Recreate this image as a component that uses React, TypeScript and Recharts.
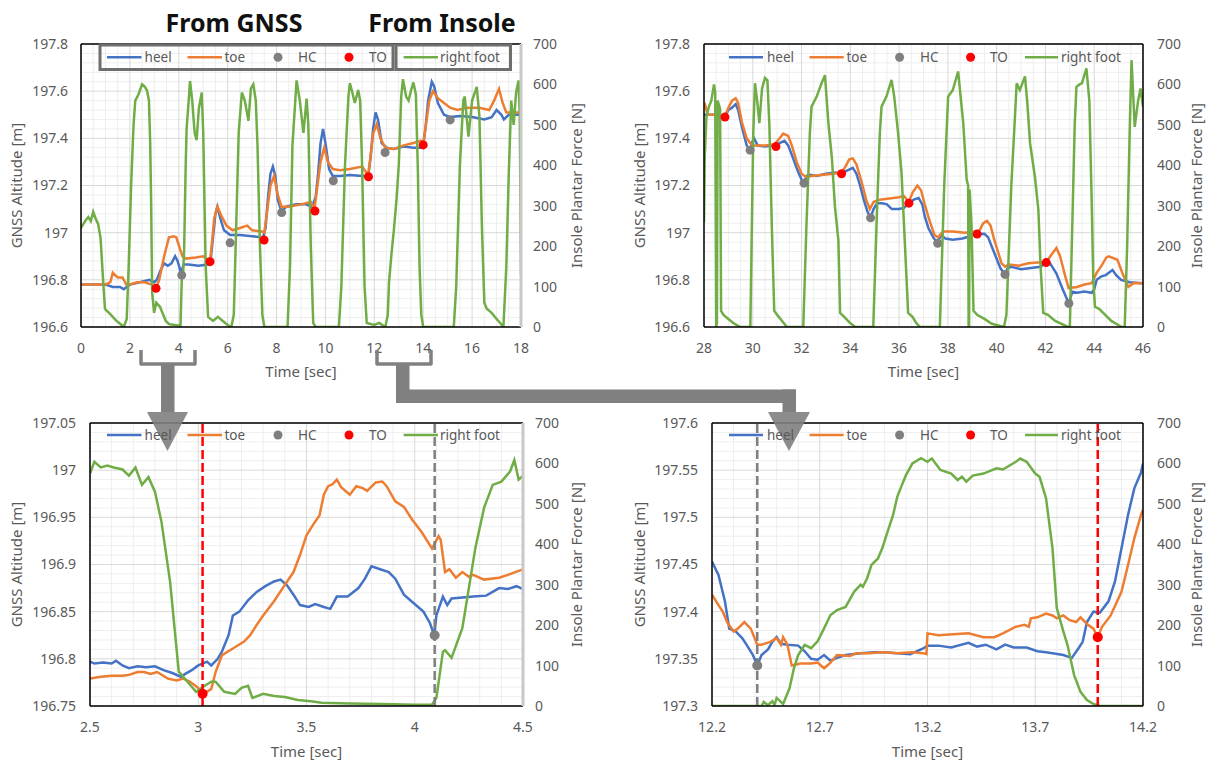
import { CartesianGrid, ComposedChart, Line, ReferenceLine, Scatter, XAxis, YAxis } from 'recharts'

type Pt = [number, number]

// axis ticks
const tlTimeTicks = [0, 2, 4, 6, 8, 10, 12, 14, 16, 18]
const trTimeTicks = [28, 30, 32, 34, 36, 38, 40, 42, 44, 46]
const blTimeTicks = [2.5, 3, 3.5, 4, 4.5]
const brTimeTicks = [12.2, 12.7, 13.2, 13.7, 14.2]
const topAltTicks = [196.6, 196.8, 197, 197.2, 197.4, 197.6, 197.8]
const blAltTicks = [196.75, 196.8, 196.85, 196.9, 196.95, 197, 197.05]
const brAltTicks = [197.3, 197.35, 197.4, 197.45, 197.5, 197.55, 197.6]
const forceTicks = [0, 100, 200, 300, 400, 500, 600, 700]

// ---- top left, 0-18 s : [time, value] ----
const tlHeel: Pt[] = [
  [0, 196.78], [0.5, 196.78], [1.0, 196.78], [1.3, 196.77], [1.6, 196.77], [1.75, 196.76], [2.0, 196.78],
  [2.4, 196.79], [2.8, 196.8], [3.0, 196.79], [3.1, 196.8], [3.25, 196.84], [3.4, 196.87], [3.55, 196.86],
  [3.7, 196.87], [3.85, 196.9], [3.95, 196.88], [4.09, 196.83], [4.2, 196.865], [4.4, 196.865], [4.8, 196.86],
  [5.2, 196.865], [5.3, 196.88], [5.4, 196.98], [5.5, 197.08], [5.58, 197.11], [5.7, 197.06], [5.85, 197.01],
  [6.1, 196.99], [6.5, 196.99], [7.0, 196.985], [7.45, 196.98], [7.55, 197.02], [7.65, 197.15], [7.75, 197.25],
  [7.85, 197.28], [7.95, 197.24], [8.05, 197.14], [8.2, 197.09], [8.4, 197.11], [8.8, 197.12], [9.2, 197.12],
  [9.45, 197.11], [9.6, 197.15], [9.7, 197.25], [9.8, 197.38], [9.9, 197.44], [10.0, 197.38], [10.15, 197.27],
  [10.3, 197.24], [10.6, 197.24], [11.0, 197.245], [11.5, 197.24], [11.75, 197.24], [11.85, 197.32],
  [11.95, 197.44], [12.05, 197.51], [12.15, 197.48], [12.3, 197.38], [12.5, 197.36], [12.8, 197.355],
  [13.2, 197.365], [13.6, 197.36], [13.9, 197.36], [14.0, 197.37], [14.1, 197.45], [14.2, 197.56],
  [14.35, 197.64], [14.45, 197.62], [14.6, 197.55], [14.85, 197.5], [15.1, 197.49], [15.5, 197.495],
  [16.0, 197.49], [16.5, 197.48], [16.8, 197.49], [17.0, 197.52], [17.2, 197.5], [17.3, 197.48], [17.5, 197.5],
  [18, 197.5],
]
const tlToe: Pt[] = [
  [0, 196.78], [0.5, 196.78], [1.0, 196.78], [1.2, 196.79], [1.3, 196.83], [1.4, 196.82], [1.5, 196.81],
  [1.7, 196.81], [1.85, 196.78], [2.0, 196.78], [2.3, 196.79], [2.6, 196.79], [2.9, 196.78], [3.07, 196.765],
  [3.2, 196.8], [3.4, 196.9], [3.6, 196.98], [3.8, 196.985], [3.9, 196.98], [4.05, 196.93], [4.15, 196.9],
  [4.3, 196.89], [4.7, 196.895], [5.0, 196.9], [5.28, 196.88], [5.35, 196.95], [5.45, 197.06], [5.58, 197.11],
  [5.75, 197.07], [5.95, 197.03], [6.2, 197.01], [6.5, 197.02], [6.8, 197.03], [7.0, 197.01], [7.4, 197.005],
  [7.5, 197.0], [7.6, 197.08], [7.75, 197.2], [7.9, 197.24], [8.05, 197.16], [8.2, 197.11], [8.5, 197.11],
  [9.0, 197.12], [9.4, 197.13], [9.55, 197.1], [9.65, 197.18], [9.8, 197.3], [9.95, 197.36], [10.1, 197.3],
  [10.3, 197.27], [10.6, 197.265], [11.0, 197.27], [11.5, 197.28], [11.75, 197.245], [11.85, 197.33],
  [11.95, 197.42], [12.1, 197.46], [12.25, 197.4], [12.45, 197.36], [12.8, 197.355], [13.2, 197.37],
  [13.6, 197.38], [13.9, 197.39], [14.0, 197.375], [14.1, 197.45], [14.25, 197.56], [14.4, 197.6],
  [14.6, 197.57], [14.85, 197.55], [15.1, 197.53], [15.4, 197.52], [15.8, 197.53], [16.3, 197.53],
  [16.7, 197.52], [16.9, 197.56], [17.1, 197.61], [17.25, 197.55], [17.4, 197.51], [18, 197.51],
]
const tlForce: Pt[] = [
  [0, 245], [0.1, 255], [0.2, 265], [0.3, 272], [0.4, 262], [0.5, 285], [0.6, 268], [0.7, 255], [0.8, 220],
  [0.9, 120], [0.98, 45], [1.05, 40], [1.15, 35], [1.3, 25], [1.45, 15], [1.6, 8], [1.75, 0], [1.87, 20],
  [1.95, 150], [2.05, 350], [2.15, 500], [2.22, 560], [2.35, 575], [2.5, 600], [2.6, 595], [2.7, 585],
  [2.78, 560], [2.83, 456], [2.87, 307], [2.91, 85], [2.99, 35], [3.08, 60], [3.23, 50], [3.47, 15], [3.6, 7],
  [4.07, 3], [4.13, 134], [4.17, 119], [4.22, 193], [4.28, 391], [4.32, 490], [4.4, 555], [4.46, 608],
  [4.55, 560], [4.65, 480], [4.73, 462], [4.82, 540], [4.94, 580], [5.0, 480], [5.1, 150], [5.2, 25],
  [5.4, 15], [5.6, 25], [5.8, 15], [6.0, 5], [6.15, 0], [6.25, 30], [6.35, 250], [6.45, 480], [6.58, 580],
  [6.7, 560], [6.85, 510], [6.95, 590], [7.05, 600], [7.15, 560], [7.22, 450], [7.32, 200], [7.42, 30],
  [7.5, 0], [8.45, 0], [8.55, 150], [8.65, 450], [8.82, 610], [8.95, 560], [9.1, 480], [9.23, 565], [9.3, 500],
  [9.4, 200], [9.5, 10], [9.6, 0], [10.55, 0], [10.65, 100], [10.8, 400], [10.94, 570], [11.0, 603],
  [11.1, 580], [11.2, 554], [11.34, 586], [11.42, 560], [11.5, 400], [11.6, 100], [11.69, 10], [12.0, 5],
  [12.2, 10], [12.45, 0], [12.55, 30], [12.6, 110], [12.7, 180], [12.8, 240], [12.9, 310], [13.0, 400],
  [13.1, 570], [13.17, 613], [13.3, 570], [13.4, 560], [13.5, 585], [13.6, 605], [13.7, 575], [13.78, 390],
  [13.85, 150], [13.92, 30], [14.0, 0], [15.25, 0], [15.35, 100], [15.5, 400], [15.64, 561], [15.7, 570],
  [15.85, 471], [16.0, 560], [16.19, 594], [16.3, 520], [16.4, 250], [16.5, 60], [16.6, 45], [16.8, 35],
  [17.0, 20], [17.15, 10], [17.28, 0], [17.4, 150], [17.5, 380], [17.6, 560], [17.7, 500], [17.8, 580],
  [17.9, 610], [17.95, 520], [18, 130],
]
const tlHC: Pt[] = [[4.12, 196.82], [6.1, 196.957], [8.21, 197.085], [10.32, 197.22], [12.44, 197.34], [15.1, 197.478]]
const tlTO: Pt[] = [[3.07, 196.764], [5.28, 196.877], [7.49, 196.969], [9.57, 197.092], [11.76, 197.237], [14.0, 197.372]]

// ---- top right, 28-46 s ----
const trHeel: Pt[] = [
  [28.0, 197.5], [28.3, 197.5], [28.6, 197.5], [28.86, 197.49], [29.0, 197.52], [29.15, 197.53],
  [29.3, 197.545], [29.4, 197.52], [29.55, 197.45], [29.75, 197.37], [29.89, 197.35], [30.0, 197.39],
  [30.05, 197.4], [30.2, 197.37], [30.5, 197.365], [30.8, 197.37], [30.95, 197.365], [31.1, 197.38],
  [31.3, 197.39], [31.45, 197.37], [31.6, 197.33], [31.85, 197.26], [32.0, 197.225], [32.1, 197.21],
  [32.2, 197.24], [32.35, 197.245], [32.6, 197.24], [33.0, 197.25], [33.4, 197.255], [33.64, 197.25],
  [33.8, 197.26], [34.1, 197.275], [34.25, 197.25], [34.4, 197.2], [34.55, 197.14], [34.7, 197.09],
  [34.83, 197.063], [34.95, 197.1], [35.1, 197.125], [35.3, 197.125], [35.5, 197.12], [35.7, 197.1],
  [36.0, 197.1], [36.2, 197.105], [36.4, 197.125], [36.6, 197.14], [36.8, 197.147], [36.95, 197.12],
  [37.05, 197.07], [37.2, 197.02], [37.4, 196.98], [37.58, 196.955], [37.7, 196.99], [37.9, 196.975],
  [38.2, 196.97], [38.6, 196.975], [38.9, 196.985], [39.2, 196.994], [39.5, 196.995], [39.65, 196.98],
  [39.88, 196.92], [40.15, 196.85], [40.34, 196.823], [40.45, 196.85], [40.6, 196.855], [41.0, 196.845],
  [41.4, 196.85], [41.8, 196.855], [42.02, 196.873], [42.12, 196.88], [42.25, 196.86], [42.45, 196.827],
  [42.72, 196.757], [42.96, 196.7], [43.1, 196.75], [43.3, 196.745], [43.6, 196.75], [43.9, 196.745],
  [44.0, 196.76], [44.1, 196.8], [44.3, 196.815], [44.47, 196.82], [44.6, 196.83], [44.75, 196.842],
  [44.9, 196.82], [45.1, 196.8], [45.45, 196.79], [46, 196.785],
]
const trToe: Pt[] = [
  [28.0, 197.53], [28.05, 197.54], [28.15, 197.5], [28.6, 197.5], [28.86, 197.495], [29.0, 197.53],
  [29.15, 197.56], [29.3, 197.57], [29.4, 197.55], [29.55, 197.47], [29.75, 197.4], [29.9, 197.38],
  [30.0, 197.37], [30.5, 197.37], [30.9, 197.375], [31.1, 197.4], [31.25, 197.42], [31.45, 197.41],
  [31.6, 197.37], [31.8, 197.3], [32.0, 197.25], [32.2, 197.235], [32.4, 197.24], [32.8, 197.245],
  [33.3, 197.25], [33.64, 197.255], [33.8, 197.28], [33.95, 197.31], [34.1, 197.315], [34.25, 197.29],
  [34.45, 197.22], [34.65, 197.14], [34.8, 197.1], [34.95, 197.13], [35.2, 197.14], [35.6, 197.145],
  [36.0, 197.15], [36.2, 197.155], [36.4, 197.13], [36.55, 197.17], [36.75, 197.2], [36.9, 197.18],
  [37.05, 197.12], [37.25, 197.05], [37.45, 196.99], [37.6, 196.98], [37.8, 197.005], [38.2, 197.005],
  [38.7, 197.0], [39.1, 197.005], [39.25, 197.0], [39.45, 197.04], [39.6, 197.05], [39.75, 197.03],
  [39.9, 196.97], [40.2, 196.87], [40.35, 196.856], [40.5, 196.865], [40.9, 196.86], [41.3, 196.87],
  [41.8, 196.875], [42.02, 196.873], [42.2, 196.9], [42.45, 196.935], [42.6, 196.9], [42.8, 196.82],
  [42.95, 196.765], [43.3, 196.77], [43.6, 196.78], [43.9, 196.786], [44.1, 196.83], [44.3, 196.86],
  [44.5, 196.895], [44.6, 196.9], [44.95, 196.885], [45.15, 196.83], [45.4, 196.77], [45.6, 196.785],
  [46, 196.785],
]
const trForce: Pt[] = [
  [28.0, 260], [28.03, 420], [28.1, 520], [28.2, 545], [28.3, 560], [28.41, 600], [28.46, 580], [28.5, 0],
  [28.53, 10], [28.56, 560], [28.66, 540], [28.7, 40], [28.8, 30], [29.0, 20], [29.2, 10], [29.4, 3],
  [29.5, 0], [29.9, 0], [29.95, 200], [30.02, 480], [30.09, 603], [30.18, 560], [30.27, 504], [30.38, 590],
  [30.5, 616], [30.6, 610], [30.68, 500], [30.78, 250], [30.88, 40], [31.0, 30], [31.2, 15], [31.4, 0],
  [32.07, 0], [32.2, 250], [32.34, 480], [32.41, 545], [32.62, 570], [32.82, 603], [32.96, 623], [33.1, 504],
  [33.24, 421], [33.37, 297], [33.51, 215], [33.58, 35], [33.75, 25], [33.95, 12], [34.2, 0], [34.94, 0],
  [35.1, 300], [35.21, 480], [35.28, 545], [35.48, 570], [35.69, 611], [35.8, 570], [35.96, 479],
  [36.1, 380], [36.23, 215], [36.37, 35], [36.55, 25], [36.7, 10], [36.85, 0], [37.67, 0], [37.85, 350],
  [38.01, 570], [38.2, 586], [38.42, 632], [38.63, 504], [38.77, 364], [38.83, 350], [38.85, 0], [38.87, 0],
  [38.89, 340], [38.97, 250], [39.05, 40], [39.2, 30], [39.5, 20], [39.8, 8], [40.3, 0], [40.4, 30],
  [40.6, 350], [40.75, 520], [40.82, 603], [40.95, 586], [41.16, 620], [41.25, 560], [41.37, 454],
  [41.57, 371], [41.71, 289], [41.8, 150], [41.91, 35], [42.1, 30], [42.4, 15], [42.93, 0], [43.0, 0],
  [43.12, 300], [43.2, 500], [43.27, 594], [43.4, 600], [43.5, 603], [43.68, 640], [43.8, 560], [43.9, 300],
  [43.96, 120], [44.03, 50], [44.2, 45], [44.45, 30], [44.7, 15], [45.12, 0], [45.25, 0], [45.35, 200],
  [45.46, 500], [45.53, 660], [45.66, 495], [45.8, 560], [45.9, 590], [46, 545],
]
const trHC: Pt[] = [[29.89, 197.35], [32.1, 197.21], [34.83, 197.063], [37.58, 196.955], [40.34, 196.823], [42.96, 196.7]]
const trTO: Pt[] = [[28.86, 197.49], [30.95, 197.365], [33.64, 197.25], [36.4, 197.125], [39.2, 196.994], [42.03, 196.873]]

// ---- bottom left, zoom 2.5-4.5 s ----
const blHeel: Pt[] = [
  [2.5, 196.797], [2.52, 196.795], [2.56, 196.796], [2.6, 196.795], [2.62, 196.798], [2.65, 196.793],
  [2.68, 196.79], [2.72, 196.792], [2.76, 196.791], [2.8, 196.792], [2.84, 196.788], [2.88, 196.785],
  [2.92, 196.781], [2.94, 196.784], [2.97, 196.788], [3.0, 196.793], [3.02, 196.795], [3.04, 196.797],
  [3.06, 196.793], [3.09, 196.8], [3.11, 196.808], [3.14, 196.825], [3.16, 196.846], [3.19, 196.85],
  [3.23, 196.862], [3.27, 196.871], [3.31, 196.877], [3.35, 196.882], [3.38, 196.884], [3.41, 196.878],
  [3.44, 196.868], [3.47, 196.857], [3.51, 196.855], [3.54, 196.858], [3.58, 196.855], [3.61, 196.853],
  [3.64, 196.866], [3.69, 196.866], [3.74, 196.875], [3.77, 196.885], [3.8, 196.898], [3.84, 196.895],
  [3.88, 196.892], [3.91, 196.885], [3.95, 196.868], [3.99, 196.86], [4.04, 196.85], [4.07, 196.838],
  [4.09, 196.825], [4.1, 196.846], [4.13, 196.866], [4.15, 196.857], [4.17, 196.864], [4.22, 196.865],
  [4.27, 196.866], [4.33, 196.867], [4.39, 196.875], [4.43, 196.874], [4.47, 196.877], [4.5, 196.874],
]
const blToe: Pt[] = [
  [2.5, 196.779], [2.55, 196.781], [2.6, 196.782], [2.65, 196.782], [2.68, 196.783], [2.72, 196.786],
  [2.75, 196.786], [2.78, 196.784], [2.81, 196.786], [2.86, 196.779], [2.9, 196.777], [2.93, 196.779],
  [2.96, 196.776], [2.99, 196.771], [3.02, 196.765], [3.04, 196.765], [3.06, 196.768], [3.08, 196.786],
  [3.11, 196.804], [3.16, 196.811], [3.21, 196.818], [3.24, 196.825], [3.27, 196.836], [3.3, 196.846],
  [3.35, 196.861], [3.39, 196.875], [3.44, 196.892], [3.47, 196.91], [3.5, 196.931], [3.53, 196.942],
  [3.56, 196.952], [3.58, 196.974], [3.6, 196.983], [3.62, 196.985], [3.64, 196.99], [3.66, 196.982],
  [3.7, 196.974], [3.73, 196.983], [3.76, 196.981], [3.78, 196.978], [3.82, 196.987], [3.85, 196.988],
  [3.87, 196.983], [3.91, 196.967], [3.95, 196.961], [3.99, 196.947], [4.03, 196.935], [4.08, 196.917],
  [4.11, 196.93], [4.12, 196.926], [4.14, 196.892], [4.16, 196.895], [4.19, 196.886], [4.22, 196.892],
  [4.25, 196.887], [4.27, 196.889], [4.32, 196.884], [4.39, 196.886], [4.43, 196.889], [4.49, 196.894],
  [4.5, 196.895],
]
const blForce: Pt[] = [
  [2.5, 575], [2.52, 604], [2.55, 590], [2.58, 595], [2.61, 590], [2.65, 585], [2.68, 570], [2.71, 590],
  [2.74, 547], [2.77, 566], [2.8, 530], [2.83, 456], [2.87, 307], [2.91, 85], [2.95, 60], [2.99, 35],
  [3.03, 50], [3.06, 60], [3.08, 60], [3.12, 35], [3.17, 30], [3.2, 45], [3.23, 50], [3.25, 20], [3.3, 30],
  [3.35, 25], [3.4, 22], [3.46, 15], [3.52, 12], [3.57, 8], [3.7, 6], [3.85, 5], [4.0, 3], [4.08, 3],
  [4.1, 20], [4.13, 134], [4.14, 138], [4.17, 119], [4.22, 193], [4.25, 292], [4.28, 391], [4.32, 490],
  [4.36, 547], [4.4, 555], [4.44, 580], [4.46, 608], [4.48, 560], [4.5, 570],
]
const blHC: Pt[] = [[4.092, 196.825]]
const blTO: Pt[] = [[3.02, 196.763]]

// ---- bottom right, zoom 12.2-14.2 s ----
const brHeel: Pt[] = [
  [12.2, 197.453], [12.23, 197.439], [12.26, 197.411], [12.28, 197.382], [12.31, 197.379], [12.34, 197.372],
  [12.36, 197.365], [12.39, 197.354], [12.41, 197.343], [12.43, 197.354], [12.46, 197.36], [12.48, 197.368],
  [12.5, 197.373], [12.52, 197.366], [12.55, 197.365], [12.6, 197.364], [12.63, 197.358], [12.66, 197.35],
  [12.69, 197.349], [12.72, 197.354], [12.75, 197.348], [12.78, 197.351], [12.82, 197.354], [12.89, 197.356],
  [12.95, 197.357], [13.0, 197.357], [13.06, 197.356], [13.12, 197.355], [13.18, 197.361], [13.2, 197.364],
  [13.25, 197.364], [13.31, 197.362], [13.39, 197.367], [13.43, 197.363], [13.47, 197.365], [13.52, 197.36],
  [13.56, 197.365], [13.6, 197.362], [13.66, 197.362], [13.71, 197.358], [13.75, 197.357], [13.78, 197.356],
  [13.83, 197.354], [13.87, 197.351], [13.9, 197.361], [13.92, 197.368], [13.94, 197.389], [13.97, 197.4],
  [14.0, 197.399], [14.04, 197.411], [14.07, 197.432], [14.1, 197.467], [14.13, 197.502], [14.16, 197.531],
  [14.19, 197.547], [14.2, 197.557],
]
const brToe: Pt[] = [
  [12.2, 197.418], [12.23, 197.407], [12.25, 197.4], [12.27, 197.389], [12.3, 197.379], [12.32, 197.382],
  [12.35, 197.389], [12.38, 197.382], [12.41, 197.365], [12.43, 197.365], [12.47, 197.368], [12.5, 197.372],
  [12.52, 197.365], [12.53, 197.373], [12.55, 197.365], [12.57, 197.343], [12.61, 197.345], [12.66, 197.345],
  [12.69, 197.346], [12.72, 197.34], [12.75, 197.346], [12.78, 197.354], [12.84, 197.353], [12.87, 197.356],
  [12.93, 197.356], [12.99, 197.357], [13.06, 197.356], [13.13, 197.357], [13.18, 197.356], [13.195, 197.355],
  [13.2, 197.377], [13.25, 197.375], [13.32, 197.376], [13.39, 197.377], [13.46, 197.373], [13.51, 197.373],
  [13.55, 197.377], [13.61, 197.384], [13.65, 197.386], [13.67, 197.384], [13.68, 197.393], [13.71, 197.394],
  [13.75, 197.398], [13.78, 197.396], [13.8, 197.393], [13.83, 197.396], [13.86, 197.391], [13.89, 197.389],
  [13.91, 197.394], [13.94, 197.387], [13.97, 197.382], [13.99, 197.373], [14.01, 197.384], [14.05, 197.396],
  [14.1, 197.421], [14.13, 197.449], [14.16, 197.478], [14.19, 197.502], [14.2, 197.508],
]
const brForce: Pt[] = [
  [12.2, 0], [12.43, 0], [12.44, 10], [12.46, 2], [12.48, 12], [12.49, 3], [12.5, 20], [12.53, 5], [12.56, 44],
  [12.58, 93], [12.6, 126], [12.63, 151], [12.66, 143], [12.69, 160], [12.72, 192], [12.75, 225], [12.78, 237],
  [12.82, 245], [12.86, 283], [12.89, 300], [12.9, 295], [12.92, 316], [12.94, 349], [12.97, 365], [12.99, 390],
  [13.01, 423], [13.04, 472], [13.06, 518], [13.08, 545], [13.1, 571], [13.13, 600], [13.17, 613], [13.2, 604],
  [13.22, 612], [13.26, 584], [13.31, 575], [13.34, 559], [13.36, 567], [13.38, 555], [13.41, 570], [13.46, 575],
  [13.52, 588], [13.55, 585], [13.61, 604], [13.63, 612], [13.66, 604], [13.7, 575], [13.72, 567], [13.75, 514],
  [13.78, 390], [13.8, 242], [13.83, 185], [13.85, 150], [13.88, 77], [13.91, 35], [13.94, 15], [13.97, 5],
  [14.0, 0], [14.2, 0],
]
const brHC: Pt[] = [[12.41, 197.343]]
const brTO: Pt[] = [[13.99, 197.373]]

const HEEL = '#4472C4'
const TOE = '#ED7D31'
const FOOT = '#70AD47'
const HC = '#7F7F7F'
const TO = '#FF0000'
const TXT = '#595959'

const toRows = (a: Pt[]) => a.map(([t, v]) => ({ t, v }))

// minor gridline values between the major ticks
function steps(from: number, to: number, step: number, major: number[]) {
  const out: number[] = []
  const n = Math.round((to - from) / step)
  for (let i = 0; i <= n; i++) {
    const v = +(from + i * step).toFixed(3)
    if (!major.some((m) => Math.abs(m - v) < 1e-6)) out.push(v)
  }
  return out
}

type PanelProps = {
  left: number
  top: number
  width: number
  height: number
  marginTop: number
  leftW: number
  rightW: number
  xH: number
  xTicks: number[]
  xStep: number
  yTicks: number[]
  yStep: number
  heel: Pt[]
  toe: Pt[]
  force: Pt[]
  hc: Pt[]
  to: Pt[]
  rightLine: { stroke: string; strokeWidth: number }
  leftTM: number
  rightTM: number
  dotR: number
  guides?: boolean
}

function Panel(p: PanelProps) {
  const x0 = p.xTicks[0]
  const x1 = p.xTicks[p.xTicks.length - 1]
  const y0 = p.yTicks[0]
  const y1 = p.yTicks[p.yTicks.length - 1]
  const xMinor = steps(x0, x1, p.xStep, p.xTicks)
  const yMinor = steps(y0, y1, p.yStep, p.yTicks)
  const tick = { fill: TXT, fontSize: 14 }
  const dot = (color: string) => (props: any) => <circle cx={props.cx} cy={props.cy} r={p.dotR} fill={color} />

  return (
    <div style={{ position: 'absolute', left: p.left, top: p.top }}>
      <ComposedChart width={p.width} height={p.height} margin={{ top: p.marginTop, right: 0, bottom: 0, left: 0 }}>
        <CartesianGrid yAxisId="left" stroke="#eeeeee" horizontalValues={yMinor} verticalValues={xMinor} />
        <CartesianGrid yAxisId="left" stroke="#d9d9d9" />
        <XAxis
          dataKey="t"
          type="number"
          domain={[x0, x1]}
          ticks={p.xTicks}
          interval={0}
          allowDataOverflow
          height={p.xH}
          tickLine={false}
          tickSize={0}
          tickMargin={16}
          tick={tick}
          axisLine={{ stroke: '#000', strokeWidth: 1.5 }}
        />
        <YAxis
          yAxisId="left"
          type="number"
          domain={[y0, y1]}
          ticks={p.yTicks}
          interval={0}
          allowDataOverflow
          width={p.leftW}
          tickLine={false}
          tickSize={0}
          tickMargin={p.leftTM}
          tick={tick}
          axisLine={{ stroke: '#000', strokeWidth: 1.5 }}
        />
        <YAxis
          yAxisId="right"
          orientation="right"
          type="number"
          domain={[0, 700]}
          ticks={forceTicks}
          interval={0}
          allowDataOverflow
          width={p.rightW}
          tickLine={false}
          tickSize={0}
          tickMargin={p.rightTM}
          tick={tick}
          axisLine={p.rightLine}
        />
        <ReferenceLine yAxisId="left" y={y1} stroke="#000" strokeWidth={1.5} />
        <Line data={toRows(p.heel)} dataKey="v" yAxisId="left" stroke={HEEL} strokeWidth={2.5} dot={false} isAnimationActive={false} />
        <Line data={toRows(p.toe)} dataKey="v" yAxisId="left" stroke={TOE} strokeWidth={2.5} dot={false} isAnimationActive={false} />
        <Line data={toRows(p.force)} dataKey="v" yAxisId="right" stroke={FOOT} strokeWidth={2.5} dot={false} isAnimationActive={false} />
        {p.guides && (
          <ReferenceLine yAxisId="left" x={p.to[0][0]} stroke={TO} strokeWidth={2.5} strokeDasharray="9 4" />
        )}
        {p.guides && (
          <ReferenceLine yAxisId="left" x={p.hc[0][0]} stroke={HC} strokeWidth={2.5} strokeDasharray="9 4" />
        )}
        <Scatter data={toRows(p.hc)} dataKey="v" yAxisId="left" shape={dot(HC)} isAnimationActive={false} />
        <Scatter data={toRows(p.to)} dataKey="v" yAxisId="left" shape={dot(TO)} isAnimationActive={false} />
      </ComposedChart>
    </div>
  )
}

type LegendPos = { heel: number[]; toe: number[]; hc: number[]; to: number[]; foot: number[] }
const legendLeft: LegendPos = { heel: [107, 141.5, 144.6], toe: [187.5, 222, 224.5], hc: [278, 298], to: [349, 369], foot: [403.6, 438, 440] }
const legendRight: LegendPos = { heel: [729, 763, 767], toe: [809.5, 843.7, 846.4], hc: [899.6, 920], to: [970.6, 990], foot: [1025, 1058, 1061] }

function Legend({ pos, y }: { pos: LegendPos; y: number }) {
  const base = y + 4.8
  const ts = { fontSize: 13.5, fill: TXT }
  return (
    <g>
      <line x1={pos.heel[0]} x2={pos.heel[1]} y1={y} y2={y} stroke={HEEL} strokeWidth={2.5} />
      <text x={pos.heel[2]} y={base} {...ts}>heel</text>
      <line x1={pos.toe[0]} x2={pos.toe[1]} y1={y} y2={y} stroke={TOE} strokeWidth={2.5} />
      <text x={pos.toe[2]} y={base} {...ts}>toe</text>
      <circle cx={pos.hc[0]} cy={y} r={4.5} fill={HC} />
      <text x={pos.hc[1]} y={base} {...ts}>HC</text>
      <circle cx={pos.to[0]} cy={y} r={4.5} fill={TO} />
      <text x={pos.to[1]} y={base} {...ts}>TO</text>
      <line x1={pos.foot[0]} x2={pos.foot[1]} y1={y} y2={y} stroke={FOOT} strokeWidth={2.5} />
      <text x={pos.foot[2]} y={base} {...ts}>right foot</text>
    </g>
  )
}

function VTitle({ x, y, children }: { x: number; y: number; children: string }) {
  return (
    <text transform={`translate(${x + 5.4},${y}) rotate(-90)`} textAnchor="middle" fontSize={15} fill={TXT}>
      {children}
    </text>
  )
}

function Overlay() {
  const grey = '#808080'
  return (
    <svg width={1210} height={760} style={{ position: 'absolute', left: 0, top: 0, pointerEvents: 'none' }}>
      <text x={234} y={32} textAnchor="middle" fontSize={25} fontWeight={700} fill="#111">From GNSS</text>
      <text x={442} y={32} textAnchor="middle" fontSize={25} fontWeight={700} fill="#111">From Insole</text>

      <VTitle x={17} y={185.5}>GNSS Altitude [m]</VTitle>
      <VTitle x={577} y={185.5}>Insole Plantar Force [N]</VTitle>
      <VTitle x={640} y={185.5}>GNSS Altitude [m]</VTitle>
      <VTitle x={1197} y={185.5}>Insole Plantar Force [N]</VTitle>
      <VTitle x={17} y={564.5}>GNSS Altitude [m]</VTitle>
      <VTitle x={577} y={564.5}>Insole Plantar Force [N]</VTitle>
      <VTitle x={640} y={564.5}>GNSS Altitude [m]</VTitle>
      <VTitle x={1197} y={564.5}>Insole Plantar Force [N]</VTitle>
      <text x={301} y={377} textAnchor="middle" fontSize={15} fill={TXT}>Time [sec]</text>
      <text x={923.5} y={377} textAnchor="middle" fontSize={15} fill={TXT}>Time [sec]</text>
      <text x={306.5} y={757} textAnchor="middle" fontSize={15} fill={TXT}>Time [sec]</text>
      <text x={927.5} y={757} textAnchor="middle" fontSize={15} fill={TXT}>Time [sec]</text>

      {/* brackets and arrows linking the zoomed windows */}
      <path d="M141 350 L141 364 L195 364 L195 350" fill="none" stroke={grey} strokeWidth={3.5} strokeLinejoin="round" />
      <rect x={161} y={364} width={13.5} height={48} fill={grey} />
      <polygon points="147,412 188,412 167.5,451" fill={grey} fillOpacity={0.9} />
      <path d="M377 350 L377 364 L431 364 L431 350" fill="none" stroke={grey} strokeWidth={3.5} strokeLinejoin="round" />
      <rect x={396} y={364} width={13.5} height={39} fill={grey} />
      <rect x={396} y={389.5} width={400} height={13.5} fill={grey} />
      <rect x={782.5} y={389.5} width={13.5} height={22.5} fill={grey} />
      <polygon points="768,412 810,412 789,451" fill={grey} fillOpacity={0.9} />

      <rect x={100} y={45} width={293} height={24.5} fill="none" stroke="#6e6e6e" strokeWidth={3} />
      <rect x={396} y={45} width={114.5} height={24.5} fill="none" stroke="#6e6e6e" strokeWidth={3} />
      <Legend pos={legendLeft} y={57.3} />
      <Legend pos={legendRight} y={57.3} />
      <Legend pos={legendLeft} y={435} />
      <Legend pos={legendRight} y={435} />
    </svg>
  )
}

export default function App() {
  const greyEdge = { stroke: '#c8c8c8', strokeWidth: 3 }
  const blackEdge = { stroke: '#000', strokeWidth: 1.5 }
  return (
    <div style={{ position: 'absolute', left: 0, top: 0, width: 1210, height: 760, background: '#fff', fontFamily: '"Noto Sans", sans-serif', overflow: 'hidden' }}>
      <Panel left={0} top={0} width={600} height={380} marginTop={44} leftW={81} rightW={79} xH={53}
        xTicks={tlTimeTicks} xStep={0.5} yTicks={topAltTicks} yStep={0.04}
        heel={tlHeel} toe={tlToe} force={tlForce} hc={tlHC} to={tlTO}
        rightLine={greyEdge} leftTM={13} rightTM={12} dotR={4.5} />
      <Panel left={600} top={0} width={610} height={380} marginTop={44} leftW={104} rightW={67} xH={53}
        xTicks={trTimeTicks} xStep={0.5} yTicks={topAltTicks} yStep={0.04}
        heel={trHeel} toe={trToe} force={trForce} hc={trHC} to={trTO}
        rightLine={blackEdge} leftTM={14} rightTM={14} dotR={4.5} />
      <Panel left={0} top={380} width={600} height={380} marginTop={43} leftW={90} rightW={77} xH={54}
        xTicks={blTimeTicks} xStep={0.1} yTicks={blAltTicks} yStep={0.01}
        heel={blHeel} toe={blToe} force={blForce} hc={blHC} to={blTO}
        rightLine={greyEdge} leftTM={14} rightTM={12} dotR={5} guides />
      <Panel left={600} top={380} width={610} height={380} marginTop={43} leftW={112} rightW={67} xH={54}
        xTicks={brTimeTicks} xStep={0.1} yTicks={brAltTicks} yStep={0.01}
        heel={brHeel} toe={brToe} force={brForce} hc={brHC} to={brTO}
        rightLine={blackEdge} leftTM={14} rightTM={14} dotR={5} guides />
      <Overlay />
    </div>
  )
}
